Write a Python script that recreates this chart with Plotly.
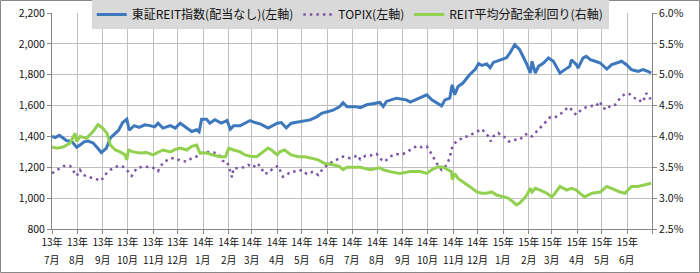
import plotly.graph_objects as go

# ---- data ----
reit_dates = ["2013-07-01","2013-07-05","2013-07-10","2013-07-15","2013-07-19","2013-07-25","2013-07-31",
 "2013-08-05","2013-08-09","2013-08-14","2013-08-20","2013-08-26","2013-08-30","2013-09-05","2013-09-10",
 "2013-09-16","2013-09-20","2013-09-25","2013-09-30","2013-10-03","2013-10-09","2013-10-15","2013-10-22",
 "2013-10-28","2013-11-03","2013-11-07","2013-11-13","2013-11-22","2013-11-28","2013-12-04","2013-12-12",
 "2013-12-18","2013-12-24","2013-12-27","2013-12-30","2014-01-05","2014-01-09","2014-01-15","2014-01-23",
 "2014-01-30","2014-02-03","2014-02-07","2014-02-15","2014-02-21","2014-02-27","2014-03-05","2014-03-12",
 "2014-03-21","2014-04-01","2014-04-06","2014-04-12","2014-04-18","2014-05-01","2014-05-11","2014-05-19",
 "2014-05-25","2014-06-01","2014-06-08","2014-06-16","2014-06-20","2014-06-25","2014-07-05","2014-07-11",
 "2014-07-19","2014-08-04","2014-08-08","2014-08-12","2014-08-24","2014-09-05","2014-09-10","2014-09-18",
 "2014-09-30","2014-10-06","2014-10-16","2014-10-18","2014-10-22","2014-10-28","2014-10-30","2014-10-31",
 "2014-11-03","2014-11-07","2014-11-13","2014-11-21","2014-11-28","2014-12-02","2014-12-06","2014-12-12",
 "2014-12-16","2014-12-20","2014-12-28","2015-01-05","2015-01-09","2015-01-15","2015-01-21","2015-01-29",
 "2015-02-03","2015-02-05","2015-02-09","2015-02-13","2015-02-19","2015-02-25","2015-03-03","2015-03-11",
 "2015-03-17","2015-03-23","2015-03-25","2015-03-31","2015-04-02","2015-04-08","2015-04-12","2015-04-17",
 "2015-04-23","2015-04-29","2015-05-07","2015-05-13","2015-05-19","2015-05-25","2015-05-31","2015-06-06",
 "2015-06-14","2015-06-20","2015-06-26","2015-06-30"]
reit_values = [1400,1393,1408,1385,1372,1368,1330,
 1348,1365,1370,1358,1322,1295,1322,1390,
 1420,1440,1490,1512,1440,1470,1458,1475,
 1470,1462,1486,1454,1470,1454,1486,1454,
 1432,1443,1430,1512,1512,1486,1508,1486,
 1503,1447,1470,1470,1486,1503,1490,1480,
 1454,1486,1490,1455,1486,1500,1507,1527,
 1550,1560,1570,1593,1618,1593,1593,1587,
 1605,1620,1594,1627,1648,1637,1622,1642,
 1670,1637,1605,1598,1637,1648,1713,1735,
 1670,1724,1746,1800,1835,1872,1860,1870,
 1845,1880,1895,1910,1940,1994,1962,1876,
 1811,1887,1811,1854,1876,1908,1887,1811,
 1833,1854,1897,1865,1843,1908,1919,1897,
 1887,1876,1837,1865,1876,1887,1865,1833,
 1822,1833,1822,1811]

topix_dates = ["2013-07-01","2013-07-07","2013-07-15","2013-07-23","2013-07-27","2013-07-31","2013-08-04",
 "2013-08-08","2013-08-16","2013-08-24","2013-08-30","2013-09-03","2013-09-10","2013-09-18","2013-09-24",
 "2013-09-30","2013-10-06","2013-10-12","2013-10-20","2013-10-28","2013-11-03","2013-11-07","2013-11-13",
 "2013-11-22","2013-11-28","2013-12-04","2013-12-12","2013-12-18","2013-12-24","2013-12-28","2014-01-05",
 "2014-01-13","2014-01-19","2014-01-25","2014-01-30","2014-02-03","2014-02-05","2014-02-07","2014-02-13",
 "2014-02-19","2014-02-25","2014-03-03","2014-03-07","2014-03-13","2014-03-15","2014-03-21","2014-03-27",
 "2014-04-02","2014-04-08","2014-04-12","2014-04-18","2014-04-25","2014-05-01","2014-05-07","2014-05-15",
 "2014-05-21","2014-05-27","2014-06-04","2014-06-12","2014-06-20","2014-06-29","2014-07-05","2014-07-07",
 "2014-07-11","2014-07-17","2014-07-23","2014-07-31","2014-08-06","2014-08-10","2014-08-16","2014-08-24",
 "2014-09-01","2014-09-10","2014-09-18","2014-09-24","2014-09-30","2014-10-04","2014-10-10","2014-10-14",
 "2014-10-18","2014-10-22","2014-10-26","2014-10-28","2014-10-31","2014-11-05","2014-11-09","2014-11-13",
 "2014-11-19","2014-11-23","2014-11-30","2014-12-06","2014-12-10","2014-12-14","2014-12-17","2014-12-20",
 "2014-12-26","2014-12-30","2015-01-05","2015-01-08","2015-01-15","2015-01-21","2015-01-27","2015-01-31",
 "2015-02-05","2015-02-11","2015-02-17","2015-02-23","2015-02-27","2015-03-05","2015-03-11","2015-03-17",
 "2015-03-23","2015-03-27","2015-03-31","2015-04-06","2015-04-12","2015-04-19","2015-04-23","2015-04-27",
 "2015-04-29","2015-05-01","2015-05-07","2015-05-11","2015-05-17","2015-05-23","2015-05-29","2015-06-04",
 "2015-06-10","2015-06-15","2015-06-18","2015-06-22","2015-06-24","2015-06-28","2015-06-30"]
topix_values = [1161,1183,1209,1209,1172,1144,1183,
 1150,1135,1124,1113,1150,1183,1205,1209,
 1183,1144,1194,1205,1200,1194,1176,1230,
 1259,1259,1243,1237,1259,1270,1291,1300,
 1296,1291,1241,1237,1172,1135,1194,1194,
 1200,1215,1200,1226,1200,1161,1161,1194,
 1209,1139,1150,1172,1172,1183,1157,1172,
 1150,1194,1226,1248,1270,1259,1270,1280,
 1252,1274,1276,1287,1248,1237,1270,1285,
 1285,1313,1339,1330,1335,1302,1248,1209,
 1183,1200,1237,1265,1335,1367,1378,1396,
 1400,1411,1432,1448,1422,1400,1367,1400,
 1422,1404,1389,1367,1378,1378,1411,1417,
 1400,1432,1465,1497,1524,1524,1541,1573,
 1590,1556,1541,1573,1590,1598,1594,1616,
 1627,1590,1573,1598,1605,1648,1676,1674,
 1648,1644,1620,1648,1680,1648,1648]

yield_dates = ["2013-07-01","2013-07-07","2013-07-15","2013-07-23","2013-07-29","2013-07-31","2013-08-04",
 "2013-08-12","2013-08-20","2013-08-26","2013-09-01","2013-09-06","2013-09-10","2013-09-16","2013-09-22",
 "2013-09-28","2013-09-30","2013-10-02","2013-10-08","2013-10-16","2013-10-24","2013-11-01","2013-11-05",
 "2013-11-13","2013-11-22","2013-11-28","2013-12-04","2013-12-12","2013-12-18","2013-12-24","2013-12-28",
 "2014-01-05","2014-01-13","2014-01-21","2014-01-28","2014-02-01","2014-02-07","2014-02-15","2014-02-21",
 "2014-02-27","2014-03-07","2014-03-15","2014-03-21","2014-03-25","2014-04-01","2014-04-04","2014-04-10",
 "2014-04-18","2014-04-27","2014-05-05","2014-05-13","2014-05-21","2014-05-29","2014-06-08","2014-06-16",
 "2014-06-20","2014-06-25","2014-07-05","2014-07-11","2014-07-23","2014-08-04","2014-08-08","2014-08-16",
 "2014-08-28","2014-09-10","2014-09-22","2014-09-30","2014-10-06","2014-10-14","2014-10-20","2014-10-26",
 "2014-10-30","2014-10-31","2014-11-03","2014-11-07","2014-11-13","2014-11-21","2014-11-30","2014-12-06",
 "2014-12-12","2014-12-18","2014-12-24","2015-01-01","2015-01-07","2015-01-13","2015-01-17","2015-01-21",
 "2015-01-27","2015-01-31","2015-02-03","2015-02-05","2015-02-09","2015-02-15","2015-02-23","2015-03-01",
 "2015-03-05","2015-03-11","2015-03-19","2015-03-25","2015-03-31","2015-04-04","2015-04-10","2015-04-19",
 "2015-04-29","2015-05-07","2015-05-15","2015-05-23","2015-05-29","2015-06-06","2015-06-14","2015-06-22",
 "2015-06-30"]
yield_values = [3.83,3.81,3.83,3.89,4.05,3.92,4.00,
 3.97,4.08,4.19,4.13,4.05,3.86,3.78,3.75,
 3.70,3.62,3.78,3.75,3.73,3.74,3.70,3.73,
 3.78,3.75,3.79,3.81,3.78,3.84,3.86,3.73,
 3.73,3.70,3.67,3.67,3.81,3.78,3.75,3.70,
 3.68,3.67,3.75,3.81,3.78,3.70,3.75,3.78,
 3.70,3.67,3.67,3.65,3.62,3.56,3.54,3.51,
 3.46,3.50,3.50,3.50,3.46,3.49,3.46,3.43,
 3.40,3.43,3.43,3.40,3.46,3.51,3.50,3.46,
 3.43,3.30,3.40,3.32,3.27,3.19,3.10,3.08,
 3.08,3.10,3.05,3.02,3.00,2.94,2.89,2.92,
 3.00,3.08,3.16,3.10,3.16,3.13,3.08,3.02,
 3.08,3.19,3.13,3.16,3.13,3.08,3.02,3.08,
 3.10,3.19,3.14,3.10,3.08,3.19,3.19,3.21,
 3.24]

tick_dates = ["2013-07-01","2013-08-01","2013-09-01","2013-10-01","2013-11-01","2013-12-01",
 "2014-01-01","2014-02-01","2014-03-01","2014-04-01","2014-05-01","2014-06-01",
 "2014-07-01","2014-08-01","2014-09-01","2014-10-01","2014-11-01","2014-12-01",
 "2015-01-01","2015-02-01","2015-03-01","2015-04-01","2015-05-01","2015-06-01","2015-07-01"]
year_labels = [f"{d[2:4]}年" for d in tick_dates[:-1]] + [""]
month_labels = [f"{int(d[5:7])}月" for d in tick_dates[:-1]]

names = ["東証REIT指数(配当なし)(左軸)", "TOPIX(左軸)", "REIT平均分配金利回り(右軸)"]

FONT = "Noto Sans CJK JP"
fig = go.Figure()
fig.add_trace(go.Scatter(x=reit_dates, y=reit_values, name=names[0], mode="lines",
                         line=dict(color="#3d78bd", width=3)))
fig.add_trace(go.Scatter(x=topix_dates, y=topix_values, name=names[1], mode="lines",
                         line=dict(color="#7a55a6", width=2.5, dash="2.5px,4px")))
fig.add_trace(go.Scatter(x=yield_dates, y=yield_values, name=names[2], mode="lines", yaxis="y2",
                         line=dict(color="#92d050", width=3)))

grid = "#c0c0c0"
axis_col = "#868686"
fig.update_layout(
    width=700, height=273,
    margin=dict(l=52, r=48, t=13, b=44, autoexpand=False),
    paper_bgcolor="white", plot_bgcolor="white",
    font=dict(family=FONT, size=10, color="#111"),
    xaxis=dict(type="date", range=["2013-07-01", "2015-07-01"], tickvals=tick_dates, ticktext=year_labels,
               showgrid=True, gridcolor=grid, gridwidth=1, showline=True, linecolor=axis_col,
               ticks="outside", ticklen=4, tickcolor=axis_col, tickangle=0,
               tickfont=dict(family=FONT, size=10)),
    yaxis=dict(range=[800, 2200], dtick=200, tickformat=",", showgrid=True, gridcolor=grid,
               showline=True, linecolor=axis_col, ticks="outside", ticklen=4, tickcolor=axis_col,
               zeroline=False, tickfont=dict(family=FONT, size=10.5)),
    yaxis2=dict(range=[2.5, 6.0], dtick=0.5, tickformat=".1f", ticksuffix="%", overlaying="y", side="right",
                showgrid=False, showline=True, linecolor=axis_col, ticks="outside", ticklen=4,
                tickcolor=axis_col, zeroline=False, tickfont=dict(family=FONT, size=10.5)),
    legend=dict(orientation="h", x=0.497, xanchor="center", y=1.06, yanchor="top",
                bgcolor="#d9d9d9", font=dict(family=FONT, size=12, color="#111"),
                itemwidth=30, tracegroupgap=0),
    showlegend=True,
)
for d, m in zip(tick_dates, month_labels):
    fig.add_annotation(x=d, xref="x", y=0, yref="paper", yanchor="top", yshift=-21,
                       text=m, showarrow=False, font=dict(family=FONT, size=10, color="#111"))
fig.add_shape(type="rect", xref="paper", yref="paper",
              x0=(0.5 - 52) / 600, x1=(699.5 - 52) / 600, y0=(229 - 272.5) / 216, y1=(229 - 0.5) / 216,
              line=dict(color="#888", width=1), fillcolor="rgba(0,0,0,0)", layer="below")
fig.write_html("out.html")
